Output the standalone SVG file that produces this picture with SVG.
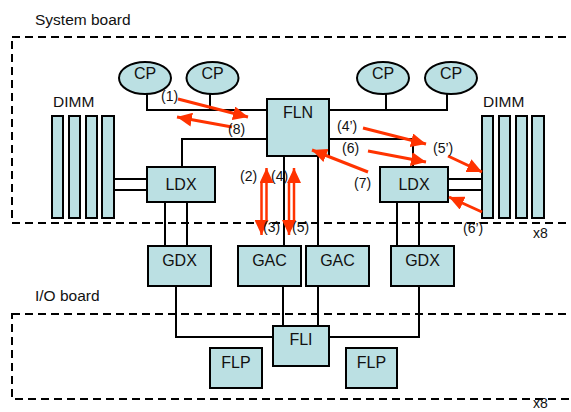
<svg xmlns="http://www.w3.org/2000/svg" width="571" height="412" viewBox="0 0 571 412">
<style>
.bg{fill:#ffffff}
.board{fill:none;stroke:#000;stroke-width:2;stroke-dasharray:8 5}
.box{fill:#bbe0e3;stroke:#000;stroke-width:2}
.ntxt{font-family:"Liberation Sans",Arial,sans-serif;font-size:16px;fill:#111;text-anchor:middle}
.ttl{font-family:"Liberation Sans",Arial,sans-serif;font-size:15.5px;fill:#111}
.lbl{font-family:"Liberation Sans",Arial,sans-serif;font-size:14px;fill:#111}
.wire{fill:none;stroke:#000;stroke-width:2}
.red{fill:none;stroke:#ff3300;stroke-width:3;marker-end:url(#ah)}
.redv{fill:none;stroke:#ff3300;stroke-width:2.5;marker-end:url(#ah)}
</style>
<defs>
<marker id="ah" markerUnits="userSpaceOnUse" markerWidth="16" markerHeight="14" refX="15" refY="7" orient="auto">
<path d="M0,0 L15,7 L0,14 z" fill="#ff3300"/>
</marker>
</defs>
<rect class="bg" x="0" y="0" width="571" height="412"/>

<g id="boards">
<rect class="board" x="12" y="37" width="600" height="186"/>
<text class="ttl" x="35" y="25">System board</text>
<rect class="board" x="12" y="314" width="600" height="85"/>
<text class="ttl" x="35" y="301">I/O board</text>
<text class="lbl" x="533" y="238">x8</text>
<text class="lbl" x="533" y="408">x8</text>
</g>

<g id="connectors">
<path class="wire" d="M147,94 V110 H267 M210,94 V110"/>
<path class="wire" d="M329,110 H447 V94 M386,94 V110"/>
<path class="wire" d="M267,139 H182 V167"/>
<path class="wire" d="M329,139 H413 V167"/>
<path class="wire" d="M114,179 H147 M114,190 H147"/>
<path class="wire" d="M448,179 H482 M448,190 H482"/>
<path class="wire" d="M165,202 V246 M187,202 V246"/>
<path class="wire" d="M397,202 V246 M419,202 V246"/>
<path class="wire" d="M284,156 V246 M318,156 V246"/>
<path class="wire" d="M176,286 V337 H273"/>
<path class="wire" d="M419,286 V337 H329"/>
<path class="wire" d="M283,286 V326 M318,286 V326"/>
</g>

<g id="cp1"><ellipse class="box" cx="145" cy="78" rx="26" ry="16"/><text class="ntxt" x="145" y="78.5">CP</text></g>
<g id="cp2"><ellipse class="box" cx="212.5" cy="78" rx="26" ry="16"/><text class="ntxt" x="212.5" y="78.5">CP</text></g>
<g id="cp3"><ellipse class="box" cx="383" cy="78" rx="26" ry="16"/><text class="ntxt" x="383" y="78.5">CP</text></g>
<g id="cp4"><ellipse class="box" cx="451" cy="78" rx="26" ry="16"/><text class="ntxt" x="451" y="78.5">CP</text></g>

<g id="fln"><rect class="box" x="267" y="99" width="62" height="57"/><text class="ntxt" x="298" y="118">FLN</text></g>

<g id="dimm-left">
<text class="ttl" x="53" y="107">DIMM</text>
<rect class="box" x="52" y="116" width="11" height="102"/>
<rect class="box" x="69" y="116" width="11" height="102"/>
<rect class="box" x="86" y="116" width="11" height="102"/>
<rect class="box" x="102" y="116" width="12" height="102"/>
</g>
<g id="dimm-right">
<text class="ttl" x="483" y="107">DIMM</text>
<rect class="box" x="482" y="116" width="11" height="102"/>
<rect class="box" x="499" y="116" width="11" height="102"/>
<rect class="box" x="516" y="116" width="11" height="102"/>
<rect class="box" x="532" y="116" width="12" height="102"/>
</g>

<g id="ldx-left"><rect class="box" x="147" y="167" width="68" height="35"/><text class="ntxt" x="181" y="190">LDX</text></g>
<g id="ldx-right"><rect class="box" x="380" y="167" width="68" height="35"/><text class="ntxt" x="414" y="190">LDX</text></g>

<g id="gdx-left"><rect class="box" x="148" y="246" width="63" height="40"/><text class="ntxt" x="179.5" y="266">GDX</text></g>
<g id="gac1"><rect class="box" x="238" y="246" width="63" height="40"/><text class="ntxt" x="269.5" y="266">GAC</text></g>
<g id="gac2"><rect class="box" x="306" y="246" width="63" height="40"/><text class="ntxt" x="337.5" y="266">GAC</text></g>
<g id="gdx-right"><rect class="box" x="391" y="246" width="63" height="40"/><text class="ntxt" x="422.5" y="266">GDX</text></g>

<g id="fli"><rect class="box" x="273" y="326" width="56" height="40"/><text class="ntxt" x="301" y="345">FLI</text></g>
<g id="flp1"><rect class="box" x="210" y="348" width="52" height="40"/><text class="ntxt" x="236" y="368">FLP</text></g>
<g id="flp2"><rect class="box" x="346" y="348" width="51" height="40"/><text class="ntxt" x="371.5" y="368">FLP</text></g>

<g id="flows">
<line class="red" x1="178" y1="99" x2="248" y2="117"/>
<line class="red" x1="232" y1="127" x2="177" y2="117"/>
<line class="red" x1="363" y1="128" x2="426" y2="144"/>
<line class="red" x1="368" y1="151" x2="426" y2="162"/>
<line class="red" x1="368" y1="172" x2="312" y2="150"/>
<line class="red" x1="448" y1="156" x2="482" y2="172"/>
<line class="red" x1="482" y1="212" x2="449" y2="197"/>
<line class="redv" x1="266.5" y1="220" x2="266.5" y2="168"/>
<line class="redv" x1="261.5" y1="183" x2="261.5" y2="235"/>
<line class="redv" x1="294" y1="220" x2="294" y2="168"/>
<line class="redv" x1="289" y1="183" x2="289" y2="235"/>
<text class="lbl" x="161" y="101">(1)</text>
<text class="lbl" x="228" y="134">(8)</text>
<text class="lbl" x="337" y="131">(4’)</text>
<text class="lbl" x="342" y="153">(6)</text>
<text class="lbl" x="354" y="188">(7)</text>
<text class="lbl" x="433" y="153">(5’)</text>
<text class="lbl" x="463" y="233">(6’)</text>
<text class="lbl" x="240" y="181">(2)</text>
<text class="lbl" x="271" y="181">(4)</text>
<text class="lbl" x="263" y="232">(3)</text>
<text class="lbl" x="292" y="232">(5)</text>
</g>
</svg>
